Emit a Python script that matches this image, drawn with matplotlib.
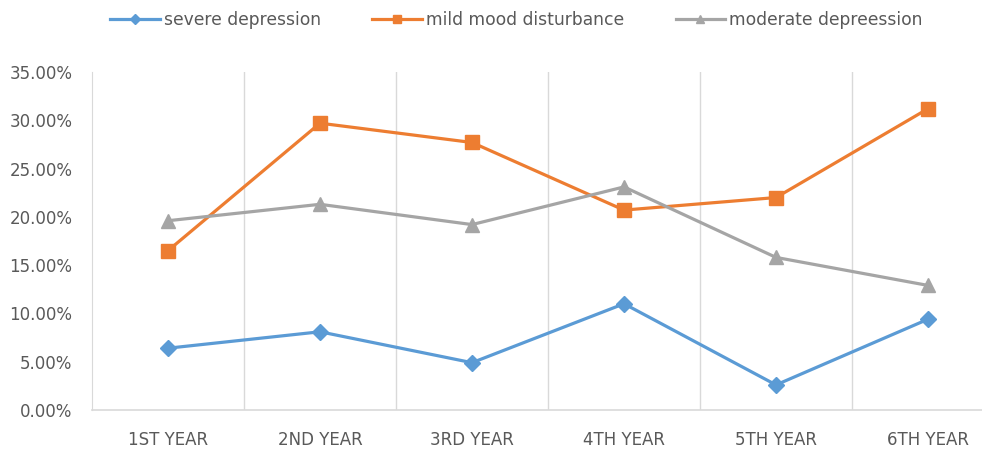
import matplotlib
matplotlib.use("Agg")
import matplotlib.pyplot as plt
from matplotlib.ticker import FuncFormatter, MultipleLocator

categories = ["1ST YEAR", "2ND YEAR", "3RD YEAR", "4TH YEAR", "5TH YEAR", "6TH YEAR"]
severe = [6.4, 8.1, 4.9, 11.0, 2.6, 9.4]
mild = [16.5, 29.7, 27.7, 20.7, 22.0, 31.2]
moderate = [19.6, 21.3, 19.2, 23.1, 15.8, 12.9]

plt.rcParams['font.family'] = ['DejaVu Sans']

fig = plt.figure(figsize=(9.82, 4.49), dpi=100)
ax = fig.add_axes([92/982, 39/449, 912/982, 338/449])

x = list(range(len(categories)))
ax.plot(x, severe, color='#5B9BD5', lw=2.3, marker='D', ms=8.5, label='severe depression')
ax.plot(x, mild, color='#ED7D31', lw=2.3, marker='s', ms=9.5, label='mild mood disturbance')
ax.plot(x, moderate, color='#A5A5A5', lw=2.3, marker='^', ms=10.5, label='moderate depreession')

ax.set_xlim(-0.5, len(categories) - 0.5)
ax.set_ylim(0, 35)
ax.yaxis.set_major_locator(MultipleLocator(5))
ax.yaxis.set_major_formatter(FuncFormatter(lambda v, p: f"{v:.2f}%"))
ax.set_xticks(x)
ax.set_xticklabels(categories)
for b in [i + 0.5 for i in x[:-1]]:
    ax.axvline(b, color='#D9D9D9', lw=1, zorder=0)

for s in ['top', 'right']:
    ax.spines[s].set_visible(False)
ax.spines['left'].set_color('#D9D9D9')
ax.spines['bottom'].set_color('#D9D9D9')
ax.spines['bottom'].set_linewidth(1.2)
ax.tick_params(axis='both', length=0, colors='#595959', labelsize=12)
ax.tick_params(axis='x', pad=15)
ax.tick_params(axis='y', pad=14)

leg = fig.legend(loc='upper center', bbox_to_anchor=(0.526, 1.01), ncol=3, frameon=False,
                 fontsize=12.3, labelcolor='#595959', handlelength=2.9, handletextpad=0.25,
                 columnspacing=3.0, markerscale=0.6)

fig.savefig("out.png", dpi=100)
